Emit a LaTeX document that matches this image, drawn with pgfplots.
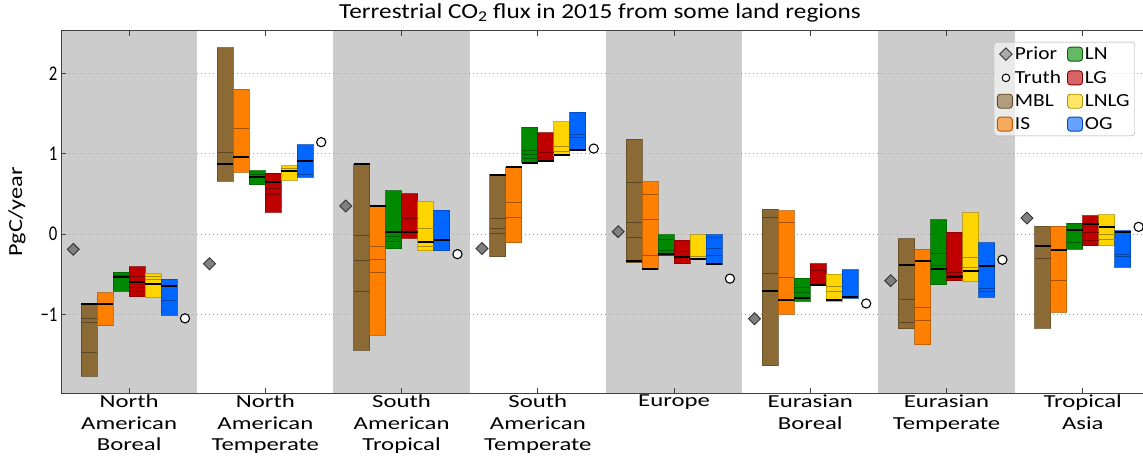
\documentclass[border=0pt]{standalone}
\usepackage{fontspec}
\setmainfont{Carlito}
\newfontfamily\titlefont[FakeStretch=1.18]{Carlito}
\newfontfamily\tickfont[FakeStretch=1.35]{Carlito}
\newfontfamily\labelfont[FakeStretch=1.22]{Carlito}
\newfontfamily\legendfont[FakeStretch=1.16]{Carlito}
\newfontfamily\numfont[FakeStretch=0.8]{Carlito}
\usepackage{pgfplots}
\usepackage{pgfplotstable}
\usepgfplotslibrary{statistics}
\pgfplotsset{compat=1.18}

\definecolor{band}{HTML}{CCCCCC}
\definecolor{cMBL}{HTML}{8C6A36}
\definecolor{cIS}{HTML}{FF8000}
\definecolor{cLN}{HTML}{008A00}
\definecolor{cLG}{HTML}{C00000}
\definecolor{cLNLG}{HTML}{FFD500}
\definecolor{cOG}{HTML}{0066FF}
\definecolor{cPrior}{HTML}{808080}

% x = region index; lo/hi = ensemble range; med = highlighted member; a,b,c = other members
\pgfplotstableread{
x lo hi med a b c
0 -1.77 -0.87 -0.87 -1.055 -1.10 -1.475
1 0.655 2.32 0.87 1.015 nan nan
2 -1.45 0.87 0.87 -0.02 -0.33 -0.71
3 -0.28 0.74 0.74 0.195 0.07 0.004
4 -0.355 1.18 -0.34 0.645 0.14 -0.045
5 -1.64 0.31 -0.71 0.21 -0.485 nan
6 -1.18 -0.06 -0.38 -0.81 -1.10 nan
7 -1.17 0.10 -0.145 -0.30 nan nan
}\tMBL
\pgfplotstableread{
x lo hi med a b c
0 -1.14 -0.73 -0.87 nan nan nan
1 0.77 1.805 0.955 1.315 nan nan
2 -1.26 0.355 0.355 -0.155 -0.32 -0.48
3 -0.11 0.835 0.835 0.40 0.21 nan
4 -0.44 0.65 -0.43 0.49 0.18 -0.27
5 -1.00 0.29 -0.82 0.145 -0.54 nan
6 -1.38 -0.19 -0.33 -0.91 -1.07 nan
7 -0.975 0.095 -0.195 -0.58 nan nan
}\tIS
\pgfplotstableread{
x lo hi med a b c
0 -0.715 -0.475 -0.535 -0.51 nan nan
1 0.615 0.79 0.705 0.74 nan nan
2 -0.18 0.54 0.025 -0.03 -0.09 nan
3 0.89 1.33 0.89 1.04 0.99 0.945
4 -0.27 -0.01 -0.25 -0.07 -0.20 nan
5 -0.84 -0.55 -0.80 -0.67 -0.73 nan
6 -0.63 0.18 -0.43 -0.24 -0.39 nan
7 -0.19 0.135 0.055 -0.11 nan nan
}\tLN
\pgfplotstableread{
x lo hi med a b c
0 -0.78 -0.405 -0.60 -0.53 -0.67 -0.72
1 0.27 0.76 0.645 0.57 0.49 nan
2 -0.05 0.50 0.025 0.20 nan nan
3 0.91 1.26 0.915 1.015 0.95 nan
4 -0.37 -0.08 -0.28 -0.215 nan nan
5 -0.645 -0.37 -0.63 -0.455 nan nan
6 -0.58 0.02 -0.535 -0.48 -0.51 nan
7 -0.145 0.23 0.13 0.025 -0.08 nan
}\tLG
\pgfplotstableread{
x lo hi med a b c
0 -0.79 -0.49 -0.62 -0.53 -0.56 nan
1 0.67 0.85 0.78 0.82 nan nan
2 -0.205 0.405 -0.10 0.075 -0.15 nan
3 0.975 1.40 0.99 1.09 1.03 nan
4 -0.32 -0.01 -0.305 -0.28 nan nan
5 -0.84 -0.50 -0.825 -0.65 -0.72 nan
6 -0.59 0.265 -0.465 -0.29 -0.42 nan
7 -0.145 0.24 0.09 -0.01 -0.07 nan
}\tLNLG
\pgfplotstableread{
x lo hi med a b c
0 -1.01 -0.56 -0.65 -0.83 nan nan
1 0.71 1.115 0.91 0.74 nan nan
2 -0.21 0.295 -0.08 nan nan nan
3 1.04 1.52 1.05 1.24 1.20 nan
4 -0.38 -0.01 -0.37 -0.175 -0.27 -0.04
5 -0.80 -0.445 -0.785 nan nan nan
6 -0.785 -0.105 -0.395 -0.68 -0.72 nan
7 -0.41 0.04 0.03 -0.25 -0.28 nan
}\tOG
\pgfplotstableread{
x prior truth
0 -0.19 -1.05
1 -0.37 1.145
2 0.35 -0.25
3 -0.18 1.065
4 0.03 -0.555
5 -1.055 -0.865
6 -0.58 -0.32
7 0.20 0.09
}\tPT

% one coloured range box per region for a given inversion setup,
% with the other members as thin lines and the highlighted one in black
\newcommand{\methodboxes}[3]{%
  \pgfplotsinvokeforeach{0,...,7}{%
    \pgfplotstablegetelem{##1}{lo}\of{#1}\let\vlo\pgfplotsretval
    \pgfplotstablegetelem{##1}{hi}\of{#1}\let\vhi\pgfplotsretval
    \pgfplotstablegetelem{##1}{med}\of{#1}\let\vmed\pgfplotsretval
    \edef\doplot{\noexpand\addplot[fill=#3, draw=#3!70!black,
      draw opacity=0.75, line width=0.9bp,
      boxplot prepared={draw position=##1+(#2),
        lower whisker=\vlo, lower quartile=\vlo, median=\vmed,
        upper quartile=\vhi, upper whisker=\vhi,
        box extend=0.1176, whisker extend=0}] coordinates {};}%
    \doplot
  }%
  \addplot[only marks, mark=-, mark size=8bp,
    mark options={draw=#3!65!black, line width=0.9bp}]
    table[x expr=\thisrow{x}+(#2), y=a]{#1};
  \addplot[only marks, mark=-, mark size=8bp,
    mark options={draw=#3!65!black, line width=0.9bp}]
    table[x expr=\thisrow{x}+(#2), y=b]{#1};
  \addplot[only marks, mark=-, mark size=8bp,
    mark options={draw=#3!65!black, line width=0.9bp}]
    table[x expr=\thisrow{x}+(#2), y=c]{#1};
  \addplot[only marks, mark=-, mark size=8bp,
    mark options={draw=black, line width=2bp}]
    table[x expr=\thisrow{x}+(#2), y=med]{#1};
}

\pgfplotsset{
  boxleg/.style={legend image code/.code={%
    \draw[##1, line width=0.9bp] (0bp,-7bp) rectangle (15bp,7bp);}},
}

\begin{document}
\begin{tikzpicture}
\begin{axis}[
  name=ax,
  set layers,
  scale only axis,
  width=1090bp, height=362bp,
  xmin=-0.5, xmax=7.5, ymin=-1.98, ymax=2.53,
  xtick={0,...,7},
  xticklabels={{North\\American\\Boreal},{North\\American\\Temperate},
    {South\\American\\Tropical},{South\\American\\Temperate},{Europe},
    {Eurasian\\Boreal},{Eurasian\\Temperate},{Tropical\\Asia}},
  xticklabel style={align=center, font=\tickfont\fontsize{18.4}{21.5}\selectfont,
    yshift=1.5bp},
  ytick={-1,0,1,2},
  yticklabels={−1,0,1,2},
  yticklabel style={font=\numfont\fontsize{21}{24}\selectfont},
  /pgf/number format/assume math mode=true,
  tick align=inside,
  xtick pos=both, ytick pos=both,
  xticklabel pos=lower, yticklabel pos=left,
  major tick length=5bp,
  tick style={black!75, line width=0.8bp},
  axis line style={black!75, line width=1bp},
  ymajorgrids,
  grid style={gray!75, dash pattern=on 1.1bp off 2.9bp, line width=0.9bp},
  boxplot/draw direction=y,
  boxplot/every median/.style={draw=none},
  title={Terrestrial CO\textsubscript{2} flux in 2015 from some land regions},
  title style={font=\titlefont\fontsize{21.5}{26}\selectfont,
    at={(axis description cs:0.4945,1)}, anchor=base, yshift=7bp},
  ylabel={PgC/year},
  ylabel style={font=\labelfont\fontsize{20}{24}\selectfont,
    at={(axis description cs:-0.0404,0.5)}, anchor=center},
  legend columns=2,
  legend cell align=left,
  legend style={at={(axis description cs:0.9853,0.970)}, anchor=north east,
    draw=gray!70, rounded corners=3bp, fill=white, fill opacity=0.6,
    text opacity=1, font=\legendfont\fontsize{18.5}{21}\selectfont,
    row sep=5.5bp, inner sep=3bp,
    /tikz/every even column/.append style={column sep=4bp}},
]
% shaded bands behind alternate regions
\addplot[fill=band, draw=none, on layer=axis background, forget plot]
  coordinates {(-0.5,-1.98) (0.5,-1.98) (0.5,2.53) (-0.5,2.53)};
\addplot[fill=band, draw=none, on layer=axis background, forget plot]
  coordinates {(1.5,-1.98) (2.5,-1.98) (2.5,2.53) (1.5,2.53)};
\addplot[fill=band, draw=none, on layer=axis background, forget plot]
  coordinates {(3.5,-1.98) (4.5,-1.98) (4.5,2.53) (3.5,2.53)};
\addplot[fill=band, draw=none, on layer=axis background, forget plot]
  coordinates {(5.5,-1.98) (6.5,-1.98) (6.5,2.53) (5.5,2.53)};

\pgfplotsset{every axis plot/.append style={forget plot}}
\methodboxes{\tMBL}{-0.294}{cMBL}
\methodboxes{\tIS}{-0.176}{cIS}
\methodboxes{\tLN}{-0.059}{cLN}
\methodboxes{\tLG}{0.059}{cLG}
\methodboxes{\tLNLG}{0.176}{cLNLG}
\methodboxes{\tOG}{0.294}{cOG}

\addplot[only marks, mark=square*, mark size=4.2bp,
  mark options={rotate=45, fill=cPrior, draw=black!80, line width=0.9bp}]
  table[x expr=\thisrow{x}-0.41, y=prior]{\tPT};
\addplot[only marks, mark=*, mark size=4.6bp,
  mark options={fill=white, draw=black, line width=1.1bp}]
  table[x expr=\thisrow{x}+0.41, y=truth]{\tPT};

% legend, filled row by row
\addlegendimage{only marks, mark=square*, mark size=4.4bp,
  mark options={rotate=45, fill=cPrior, draw=black!80, line width=0.9bp}}
\addlegendentry{Prior}
\addlegendimage{boxleg, fill=cLN, draw=cLN!70!black}
\addlegendentry{LN}
\addlegendimage{only marks, mark=*, mark size=3.8bp,
  mark options={fill=white, draw=black, line width=1bp}}
\addlegendentry{Truth}
\addlegendimage{boxleg, fill=cLG, draw=cLG!70!black}
\addlegendentry{LG}
\addlegendimage{boxleg, fill=cMBL, draw=cMBL!70!black}
\addlegendentry{MBL}
\addlegendimage{boxleg, fill=cLNLG, draw=cLNLG!70!black}
\addlegendentry{LNLG}
\addlegendimage{boxleg, fill=cIS, draw=cIS!70!black}
\addlegendentry{IS}
\addlegendimage{boxleg, fill=cOG, draw=cOG!70!black}
\addlegendentry{OG}
\end{axis}
\pgfresetboundingbox
\path[use as bounding box] ([xshift=-61bp, yshift=-63bp]ax.south west)
  rectangle ([xshift=1082bp, yshift=31bp]ax.north west);
\end{tikzpicture}
\end{document}
